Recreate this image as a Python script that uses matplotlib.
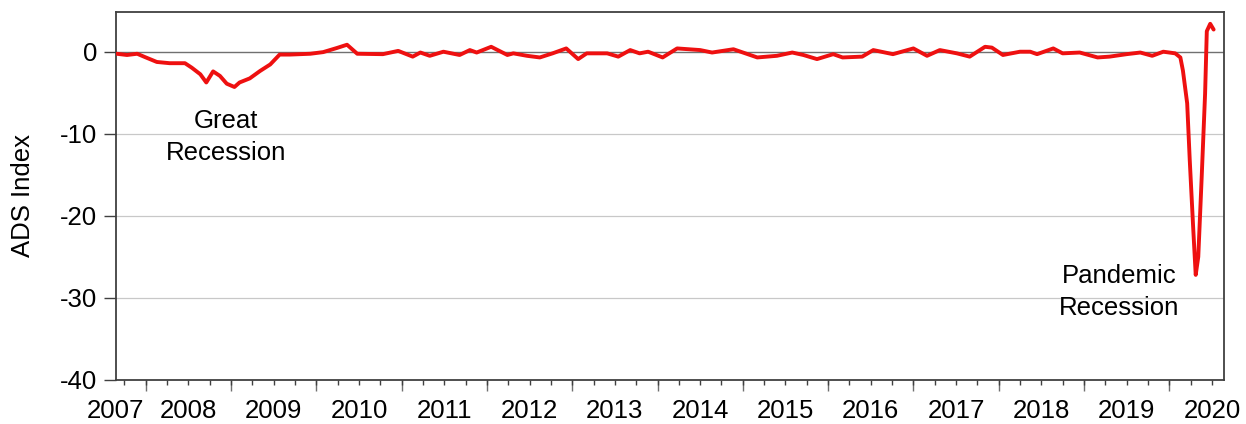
import matplotlib
matplotlib.use("Agg")
import matplotlib.pyplot as plt
import numpy as np

plt.rcParams['font.family'] = ['Liberation Sans', 'DejaVu Sans']

# decimal-year dates and ADS index values
dates = [2007.66, 2007.78, 2007.90, 2007.99, 2008.13, 2008.28, 2008.46, 2008.54,
         2008.64, 2008.71, 2008.79, 2008.87, 2008.95, 2009.04, 2009.10, 2009.22,
         2009.34, 2009.46, 2009.57, 2009.69, 2009.93, 2010.08, 2010.24, 2010.36,
         2010.48, 2010.78, 2010.96, 2011.13, 2011.22, 2011.33, 2011.49, 2011.68,
         2011.80, 2011.88, 2012.05, 2012.24, 2012.31, 2012.47, 2012.62, 2012.77,
         2012.93, 2013.07, 2013.17, 2013.41, 2013.54, 2013.68, 2013.79, 2013.89,
         2014.06, 2014.23, 2014.50, 2014.64, 2014.89, 2015.17, 2015.40, 2015.58,
         2015.71, 2015.87, 2016.06, 2016.17, 2016.40, 2016.53, 2016.76, 2017.00,
         2017.16, 2017.31, 2017.51, 2017.66, 2017.84, 2017.92, 2018.05, 2018.25,
         2018.37, 2018.45, 2018.64, 2018.75, 2018.95, 2019.16, 2019.30, 2019.50,
         2019.66, 2019.80, 2019.93, 2020.07, 2020.13, 2020.16, 2020.21, 2020.24,
         2020.28, 2020.31, 2020.34, 2020.38, 2020.42, 2020.44, 2020.48, 2020.52]
ads = [-0.25, -0.4, -0.25, -0.65, -1.25, -1.4, -1.4, -1.95,
       -2.75, -3.75, -2.4, -2.95, -3.9, -4.3, -3.75, -3.25,
       -2.35, -1.55, -0.35, -0.35, -0.25, -0.05, 0.45, 0.85,
       -0.25, -0.3, 0.1, -0.6, -0.1, -0.5, 0.0, -0.4,
       0.2, -0.1, 0.6, -0.4, -0.2, -0.5, -0.7, -0.2,
       0.4, -0.9, -0.2, -0.2, -0.6, 0.2, -0.2, 0.0,
       -0.7, 0.4, 0.2, -0.1, 0.3, -0.7, -0.5, -0.1,
       -0.4, -0.9, -0.3, -0.7, -0.6, 0.2, -0.3, 0.4,
       -0.5, 0.2, -0.2, -0.6, 0.6, 0.5, -0.4, 0.0,
       0.0, -0.3, 0.4, -0.2, -0.1, -0.7, -0.6, -0.3,
       -0.1, -0.5, 0.0, -0.2, -0.7, -2.3, -6.3, -13.2,
       -21.4, -27.2, -25.0, -15.3, -5.1, 2.5, 3.4, 2.7]

year_labels = ['2007', '2008', '2009', '2010', '2011', '2012', '2013',
               '2014', '2015', '2016', '2017', '2018', '2019', '2020']
label_pos = [2007.65] + [y + 0.5 for y in range(2008, 2021)]
y_ticks = [0, -10, -20, -30, -40]

fig = plt.figure(figsize=(12.46, 4.24), dpi=100)
ax = fig.add_axes([0.093, 0.104, 0.8893, 0.8679])

xmin, xmax = 2007.652, 2020.641
ax.set_xlim(xmin, xmax)
ax.set_ylim(-40, 4.85)

for yv in [-10, -20, -30]:
    ax.axhline(yv, color='#c8c8c8', lw=0.9, zorder=1)
ax.axhline(0, color='#707070', lw=1.0, zorder=1)

ax.plot(dates, ads, color='#ee1010', lw=2.8, solid_joinstyle='round',
        solid_capstyle='round', zorder=3)

# y axis
ax.set_yticks(y_ticks)
ax.set_yticklabels([str(v) for v in y_ticks])
ax.tick_params(axis='y', direction='out', length=8.5, width=1.0, color='#404040',
               labelsize=18.5, pad=5)
ax.set_ylabel('ADS Index', fontsize=18.5, labelpad=18)

# x axis: labels, quarter ticks, year ticks
ax.set_xticks(label_pos)
ax.set_xticklabels(year_labels)
ax.tick_params(axis='x', which='major', length=0, labelsize=18.5, pad=14)
quarters = [q for q in np.arange(2007.0, 2021.0, 0.25) if xmin < q < xmax]
ax.set_xticks(quarters, minor=True)
ax.xaxis.remove_overlapping_locs = False
ax.tick_params(axis='x', which='minor', direction='out', length=3.5, width=1.0,
               color='#404040')
sec = ax.secondary_xaxis('bottom')
years = [y for y in range(2007, 2021) if xmin < y < xmax]
sec.set_xticks(years)
sec.set_xticklabels([])
sec.tick_params(direction='out', length=8, width=1.0, color='#707070')
sec.spines['bottom'].set_visible(False)

for s in ax.spines.values():
    s.set_color('#404040')
    s.set_linewidth(1.3)

ax.text(2008.94, -10.4, 'Great\nRecession', fontsize=18.5, ha='center', va='center',
        linespacing=1.4)
ax.text(2019.41, -29.3, 'Pandemic\nRecession', fontsize=18.5, ha='center', va='center',
        linespacing=1.4)

fig.savefig('out.png', dpi=100)
